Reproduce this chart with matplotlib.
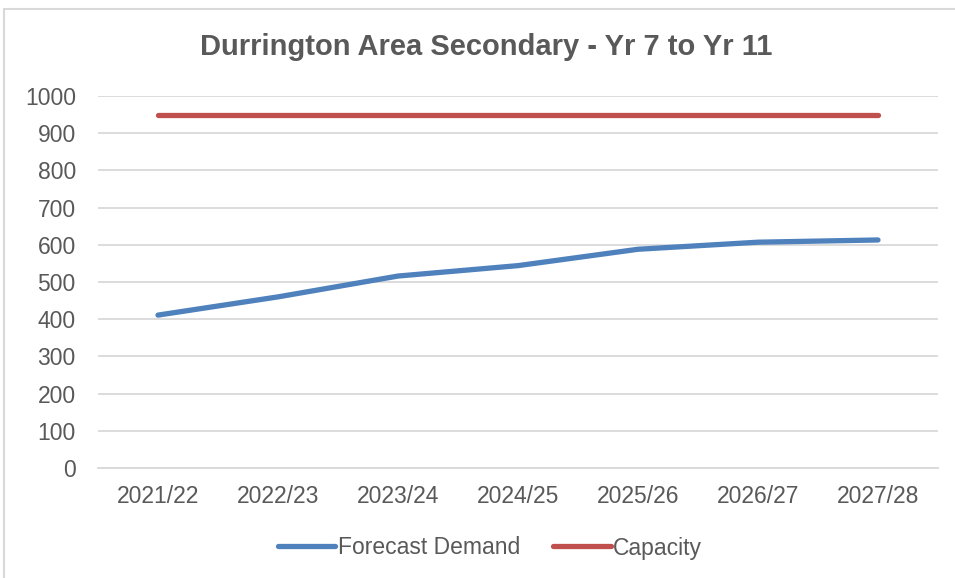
import matplotlib.pyplot as plt
from matplotlib.patches import Rectangle

plt.rcParams['font.family'] = ['Liberation Sans', 'DejaVu Sans']

years = ['2021/22', '2022/23', '2023/24', '2024/25', '2025/26', '2026/27', '2027/28']
forecast_demand = [411, 460, 516, 544, 588, 607, 613]
capacity = [948, 948, 948, 948, 948, 948, 948]

txt = '#595959'
fig = plt.figure(figsize=(9.55, 5.78), dpi=100)
ax = fig.add_axes([98 / 955, 1 - 468 / 578, 840 / 955, 372 / 578])

# outer chart border
fig.patches.append(Rectangle((4 / 955, -0.1), 1.1, 1 - 9 / 578 + 0.1,
                             transform=fig.transFigure, fill=False,
                             edgecolor='#d9d9d9', lw=1.5))

x = range(len(years))
ax.plot(x, forecast_demand, color='#4f81bd', lw=3.8, solid_capstyle='round',
        label='Forecast Demand')
ax.plot(x, capacity, color='#c0504d', lw=3.8, solid_capstyle='round',
        label='Capacity')

ax.set_xlim(-0.5, 6.5)
ax.set_ylim(0, 1000)
ax.set_yticks(range(0, 1001, 100))
ax.set_xticks(list(x))
ax.set_xticklabels(years)
ax.grid(axis='y', color='#d9d9d9', lw=1.3)
ax.set_axisbelow(True)
for s in ['top', 'right', 'left']:
    ax.spines[s].set_visible(False)
ax.spines['bottom'].set_color('#d9d9d9')
ax.spines['bottom'].set_linewidth(1.3)
ax.tick_params(length=0, labelsize=16.5, colors=txt)
ax.tick_params(axis='x', pad=12)
ax.tick_params(axis='y', pad=16)

fig.text(486 / 955, 1 - 47 / 578, 'Durrington Area Secondary - Yr 7 to Yr 11',
         ha='center', va='center', fontsize=21, fontweight='bold', color=txt)

fig.legend(loc='center', bbox_to_anchor=(490 / 955, 1 - 548 / 578), ncol=2,
           frameon=False, fontsize=16.5, labelcolor=txt, handlelength=2.5,
           handletextpad=0.1, columnspacing=1.45)

fig.savefig('out.png', dpi=100)
